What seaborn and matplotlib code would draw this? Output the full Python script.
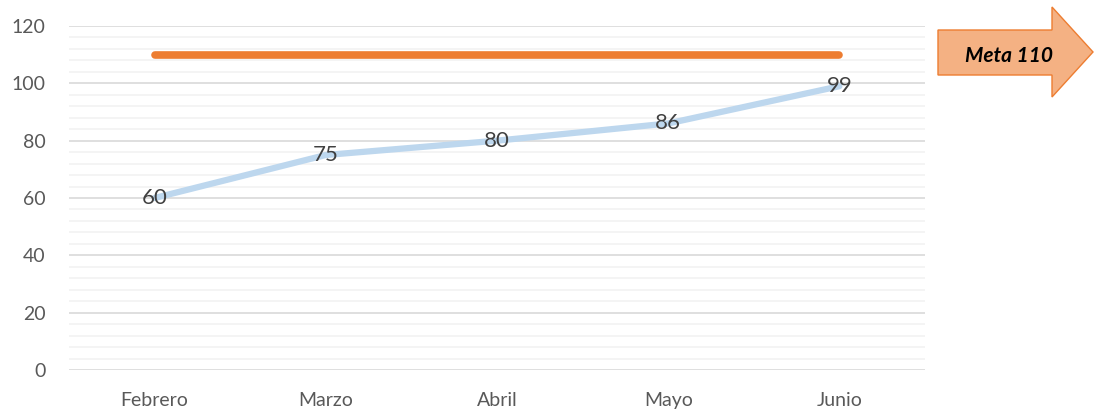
import matplotlib
matplotlib.use("Agg")
import matplotlib.pyplot as plt
from matplotlib.patches import Polygon
from matplotlib.ticker import MultipleLocator
import numpy as np
import pandas as pd
import seaborn as sns

months = ["Febrero", "Marzo", "Abril", "Mayo", "Junio"]
values = [60, 75, 80, 86, 99]
meta = [110, 110, 110, 110, 110]

blue = "#BDD7EE"
orange = "#ED7D31"
grey_txt = "#595959"

sns.set_theme(style="white")
plt.rcParams["font.family"] = ["Lato", "DejaVu Sans"]

df = pd.DataFrame({"mes": months, "valor": values, "meta": meta})
df["x"] = np.arange(len(months))

fig = plt.figure(figsize=(10.94, 4.11), dpi=100)
ax = fig.add_axes([69/1094, 1 - 370/411, (925 - 69)/1094, (370 - 26)/411])

sns.lineplot(data=df, x="x", y="meta", ax=ax, color=orange, lw=5.5,
             solid_capstyle="round", zorder=3)
sns.lineplot(data=df, x="x", y="valor", ax=ax, color=blue, lw=4.5,
             solid_capstyle="round", zorder=3)

for xi, v in zip(df["x"], df["valor"]):
    ax.text(xi, v, str(v), ha="center", va="center", fontsize=16,
            color="#404040", zorder=4)

ax.set_xlim(-0.5, len(months) - 0.5)
ax.set_ylim(0, 120)
ax.yaxis.set_major_locator(MultipleLocator(20))
ax.yaxis.set_minor_locator(MultipleLocator(4))
ax.set_xticks(df["x"])
ax.set_xticklabels(months)
ax.grid(which="major", axis="y", color="#D9D9D9", lw=1.2, zorder=0)
ax.grid(which="minor", axis="y", color="#F2F2F2", lw=1.2, zorder=0)
ax.tick_params(axis="both", which="both", length=0, labelsize=14,
               colors=grey_txt)
ax.tick_params(axis="x", pad=16)
ax.tick_params(axis="y", pad=17)
ax.set_xlabel("")
ax.set_ylabel("")
for s in ax.spines.values():
    s.set_visible(False)

# arrow callout
pts = [(938, 30), (1052, 30), (1052, 7), (1093, 52), (1052, 97), (1052, 75), (938, 75)]
pts = [(px/1094, 1 - py/411) for px, py in pts]
fig.add_artist(Polygon(pts, closed=True, transform=fig.transFigure,
                       facecolor="#F4B183", edgecolor=orange, lw=1.0))
fig.text(1009/1094, 1 - 56/411, "Meta 110", ha="center", va="center",
         fontsize=15, fontweight="bold", fontstyle="italic", color="black")

fig.savefig("out.png", dpi=100)
